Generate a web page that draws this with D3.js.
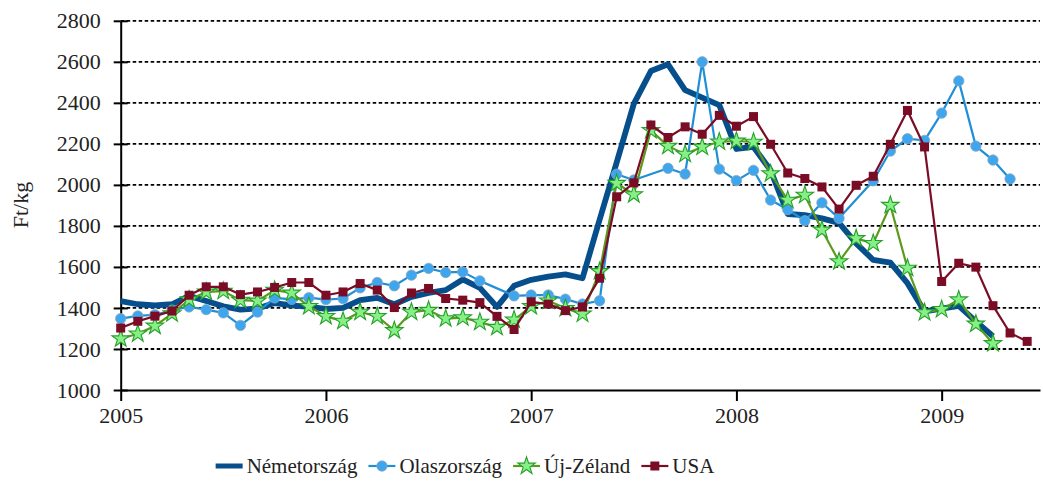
<!DOCTYPE html>
<html>
<head>
<meta charset="utf-8">
<script src="https://cdn.jsdelivr.net/npm/d3@7"></script>
<style>
  body { margin: 0; background: #fff; }
  svg { display: block; font-family: "Liberation Serif", "DejaVu Serif", serif; }
</style>
</head>
<body>
<svg id="chart" width="1043" height="486"></svg>
<script>
// havi adatok, 2005 január = 0. index
const startYear = 2005;
const yearTicks = [2005, 2006, 2007, 2008, 2009];
const yTicks = [1000, 1200, 1400, 1600, 1800, 2000, 2200, 2400, 2600, 2800];
const seriesNames = ["Németország", "Olaszország", "Új-Zéland", "USA"];

const nemetorszag = [
  1433, 1418, 1413, 1418, 1459, 1434, 1408, 1392, 1397, 1424, 1413, 1405,
  1395, 1400, 1438, 1449, 1418, 1454, 1473, 1487, 1539, 1498, 1405, 1508,
  1537, 1553, 1564, 1545, 1830, 2110, 2395, 2555, 2588, 2462, 2425, 2389,
  2175, 2185, 2071, 1858, 1853, 1837, 1815, 1715, 1634, 1621, 1521, 1383,
  1397, 1410, 1335, 1262
];
const olaszorszag = [
  1348, 1361, 1367, 1389, 1405, 1392, 1376, 1315, 1380, 1449, 1442, 1450,
  1441, 1446, 1498, 1524, 1508, 1560, 1593, 1573, 1576, 1532, null, 1459,
  1463, 1463, 1443, 1419, 1435, 2052, 2024, null, 2081, 2053, 2600, 2077,
  2021, 2071, 1926, 1880, 1825, 1913, 1837, null, 2020, 2165, 2225, 2217,
  2350, 2507, 2189, 2121, 2029
];
const ujZeland = [
  1250, 1274, 1312, 1372, 1440, 1478, 1482, 1438, 1434, 1487, 1473, 1408,
  1359, 1336, 1380, 1359, 1290, 1380, 1389, 1348, 1353, 1331, 1306, 1342,
  1408, 1435, 1398, 1371, 1578, 2008, 1953, 2266, 2189, 2150, 2185, 2210,
  2214, 2209, 2055, 1926, 1950, 1780, 1626, 1739, 1715, 1901, 1594, 1378,
  1393, 1440, 1322, 1227
];
const usa = [
  1302, 1335, 1360, 1385, 1462, 1503, 1503, 1465, 1478, 1500, 1524, 1524,
  1462, 1478, 1519, 1487, 1402, 1473, 1495, 1446, 1438, 1426, 1359, 1295,
  1430, 1419, 1387, 1405, 1545, 1942, 2010, 2292, 2231, 2283, 2247, 2339,
  2286, 2333, 2198, 2058, 2031, 1990, 1882, 1998, 2042, 2198, 2363, 2185,
  1529, 1618, 1599, 1411, 1278, 1237
];

const svg = d3.select("#chart");
const plotLeft = 120.7, plotRight = 1040, plotTop = 20.8, plotBottom = 390;

const x = d3.scaleLinear().domain([0, 53.75]).range([plotLeft, plotRight]);
const y = d3.scaleLinear().domain([1000, 2800]).range([plotBottom, plotTop]);

// rácsvonalak
svg.append("g")
  .selectAll("line")
  .data(yTicks.slice(1))
  .join("line")
  .attr("x1", plotLeft).attr("x2", plotRight)
  .attr("y1", d => y(d)).attr("y2", d => y(d))
  .attr("stroke", "#000")
  .attr("stroke-width", 1.8)
  .attr("stroke-dasharray", "3.5,2.5");

// y tengely
const yAxis = svg.append("g")
  .attr("transform", `translate(${plotLeft},0)`)
  .call(d3.axisLeft(y).tickValues(yTicks).tickFormat(d3.format("d"))
    .tickSize(7).tickSizeOuter(0).tickPadding(13));
yAxis.select(".domain").attr("stroke-width", 2);
yAxis.selectAll(".tick line").clone().attr("x2", 7);
yAxis.selectAll(".tick line").attr("stroke-width", 2);
yAxis.selectAll("text").attr("font-size", 22).attr("fill", "#222")
  .attr("font-family", "'Liberation Serif', serif");

// x tengely
const xAxis = svg.append("g")
  .attr("transform", `translate(0,${plotBottom})`)
  .call(d3.axisBottom(x)
    .tickValues(yearTicks.map(yr => (yr - startYear) * 12))
    .tickFormat(d => startYear + d / 12)
    .tickSize(11).tickSizeOuter(0).tickPadding(6));
xAxis.select(".domain").attr("stroke-width", 2);
xAxis.selectAll(".tick line").attr("stroke-width", 2);
xAxis.selectAll("text").attr("font-size", 22).attr("fill", "#222")
  .attr("font-family", "'Liberation Serif', serif");

svg.append("text")
  .attr("transform", "translate(28,205) rotate(-90)")
  .attr("text-anchor", "middle")
  .attr("font-size", 22)
  .attr("fill", "#222")
  .text("Ft/kg");

const toPoints = arr => arr.map((v, i) => ({ i, v })).filter(d => d.v !== null);
const line = d3.line().x(d => x(d.i)).y(d => y(d.v));

const star = d3.symbol().type(d3.symbolStar).size(95);

const series = [
  { name: seriesNames[0], data: nemetorszag, color: "#064f8c", width: 5.8, marker: null },
  { name: seriesNames[1], data: olaszorszag, color: "#1f8fd6", width: 2.2, marker: "circle" },
  { name: seriesNames[2], data: ujZeland, color: "#5c9a1e", width: 2.2, marker: "star" },
  { name: seriesNames[3], data: usa, color: "#7a0c25", width: 2.2, marker: "square" }
];

function drawMarker(g, type) {
  if (type === "circle") {
    g.append("circle").attr("r", 5.2).attr("fill", "#3ea6ee")
      .attr("stroke", "#8aa6bd").attr("stroke-width", 0.8);
  } else if (type === "star") {
    g.append("path").attr("d", star()).attr("fill", "#86ef86")
      .attr("stroke", "#27a02a").attr("stroke-width", 1.1);
  } else if (type === "square") {
    g.append("rect").attr("x", -4.5).attr("y", -4.5).attr("width", 9).attr("height", 9)
      .attr("fill", "#7a0c25");
  }
}

series.forEach(s => {
  const pts = toPoints(s.data);
  const g = svg.append("g");
  g.append("path")
    .datum(pts)
    .attr("fill", "none")
    .attr("stroke", s.color)
    .attr("stroke-width", s.width)
    .attr("stroke-linejoin", "round")
    .attr("d", line);
  if (s.marker) {
    g.selectAll("g.m")
      .data(pts)
      .join("g")
      .attr("class", "m")
      .attr("transform", d => `translate(${x(d.i)},${y(d.v)})`)
      .each(function () { drawMarker(d3.select(this), s.marker); });
  }
});

// jelmagyarázat
const legend = svg.append("g").attr("font-size", 21).attr("fill", "#222");
let lx = 0;
series.forEach(s => {
  const it = legend.append("g").attr("transform", `translate(${lx},0)`);
  it.append("line").attr("x1", 0).attr("x2", 27).attr("y1", 0).attr("y2", 0)
    .attr("stroke", s.color).attr("stroke-width", s.marker ? 2.2 : 5);
  const mg = it.append("g").attr("transform", "translate(13.5,0)");
  drawMarker(mg, s.marker);
  const t = it.append("text").attr("x", 31).attr("y", 7).text(s.name);
  lx += 31 + t.node().getComputedTextLength() + 11;
});
const legendWidth = lx - 11;
legend.attr("transform", `translate(${465 - legendWidth / 2},466)`);
</script>
</body>
</html>
